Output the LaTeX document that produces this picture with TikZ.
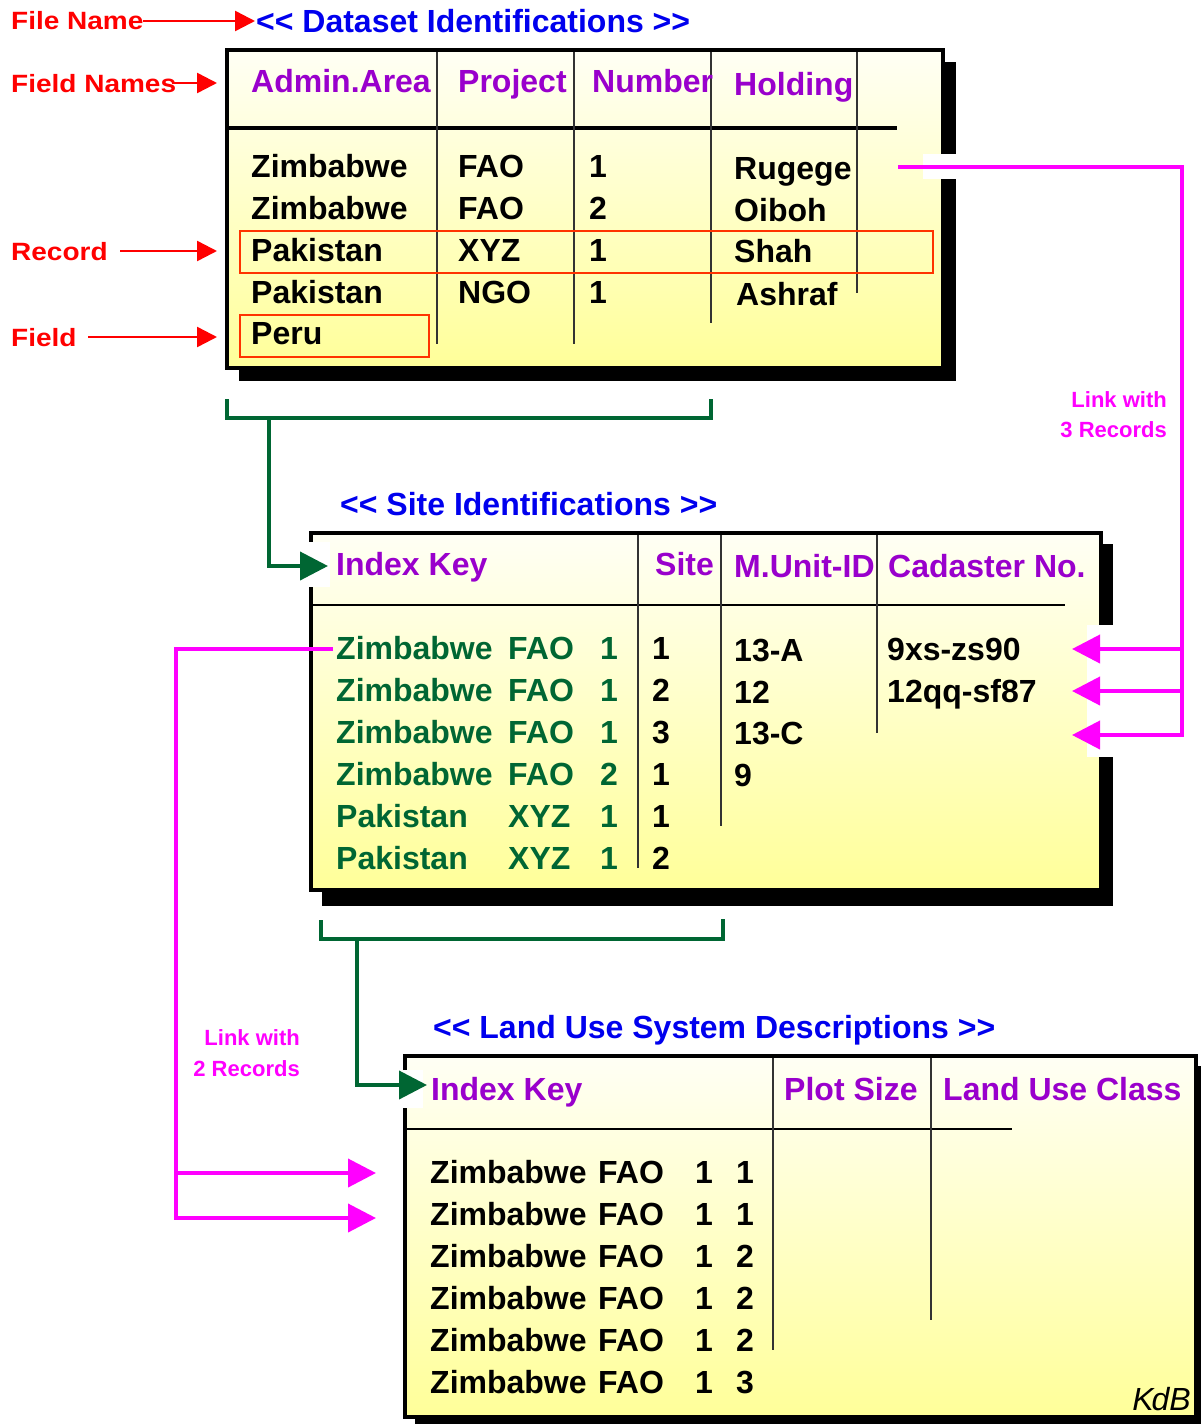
\documentclass[tikz,border=0pt]{standalone}
\usepackage{fontspec}
\setmainfont{Liberation Sans}
\newfontfamily\stretchfont[FakeStretch=1.12]{Liberation Sans}
\usetikzlibrary{arrows.meta}
\definecolor{ttlblue}{RGB}{0,0,238}
\definecolor{hdrpurple}{RGB}{153,0,204}
\definecolor{dkgreen}{RGB}{0,102,51}
\definecolor{lnkmag}{RGB}{255,0,255}
\definecolor{rbox}{RGB}{255,51,0}
\definecolor{lightcream}{RGB}{255,255,245}
\definecolor{paleyellow}{RGB}{255,255,153}
\newcommand{\ltlt}{<{}<}
\newcommand{\gtgt}{>{}>}
\tikzset{
  tablebox/.style={draw=black, line width=4pt, top color=lightcream, bottom color=paleyellow},
  shadowbox/.style={fill=black},
  bigfont/.style={font=\bfseries\fontsize{32}{36}\selectfont},
  hdr/.style={inner sep=0pt, anchor=base west, text=hdrpurple, bigfont},
  dat/.style={inner sep=0pt, anchor=base west, text=black, bigfont},
  keytxt/.style={dat, text=dkgreen},
  ttl/.style={inner sep=0pt, anchor=base west, text=ttlblue, bigfont},
  lbl/.style={inner sep=0pt, anchor=base west, text=red, font=\stretchfont\bfseries\fontsize{25}{30}\selectfont},
  lnklbl/.style={inner sep=0pt, align=right, anchor=north east, text=lnkmag, font=\bfseries\fontsize{22}{30}\selectfont},
  redarr/.style={draw=red, line width=2.5pt, -{Triangle[length=20pt,width=20pt]}},
  grnline/.style={draw=dkgreen, line width=4pt},
  grnarr/.style={grnline, -{Triangle[length=28pt,width=28pt]}},
  magline/.style={draw=lnkmag, line width=4pt},
  magarr/.style={magline, -{Triangle[length=28pt,width=28pt]}},
  colline/.style={draw=black!80, line width=1.3pt},
  sepline/.style={draw=black, line width=1.5pt},
  recbox/.style={draw=rbox, line width=1.2pt},
  whitepatch/.style={fill=white, draw=none}
}
\begin{document}
\begin{tikzpicture}[x=1pt,y=-1pt]
\useasboundingbox (0,0) rectangle (1201,1424);
\fill[white] (0,0) rectangle (1201,1424);

% ---------- Table 1 ----------
\fill[shadowbox] (239,62) rectangle (956,381);
\draw[tablebox] (227,50) rectangle (943,368);
\draw[draw=black, line width=3.5pt] (228,128) -- (897,128);
\draw[colline] (437,52) -- (437,344);
\draw[colline] (574,52) -- (574,344);
\draw[colline] (711,52) -- (711,323);
\draw[colline] (857,52) -- (857,293);
\fill[whitepatch] (923,154) rectangle (958,179);

% ---------- Table 2 ----------
\fill[shadowbox] (322,544) rectangle (1113,906);
\draw[tablebox] (311,533) rectangle (1101,890);
\draw[sepline] (313,605) -- (1065,605);
\draw[colline] (638,535) -- (638,868);
\draw[colline] (721,535) -- (721,826);
\draw[colline] (877,535) -- (877,733);
\fill[whitepatch] (308,542) rectangle (330,587);
\fill[whitepatch] (1087,625) rectangle (1115,757);

% ---------- Table 3 ----------
\fill[shadowbox] (415,1066) rectangle (1212,1432);
\draw[tablebox] (405,1056) rectangle (1196,1417);
\draw[sepline] (407,1129) -- (1012,1129);
\draw[colline] (773,1058) -- (773,1350);
\draw[colline] (931,1058) -- (931,1320);
\fill[whitepatch] (401,1070) rectangle (423,1108);

% ---------- Titles ----------
\node[ttl] (title1) at (256,32) {\ltlt\ Dataset Identifications \gtgt};
\node[ttl] (title2) at (340,515) {\ltlt\ Site Identifications \gtgt};
\node[ttl] (title3) at (433,1038) {\ltlt\ Land Use System Descriptions \gtgt};

% ---------- Red labels ----------
\node[lbl] (lfile) at (11,29) {File Name};
\node[lbl] (lfields) at (11,92) {Field Names};
\node[lbl] (lrecord) at (11,260) {Record};
\node[lbl] (lfield) at (11,346) {Field};
\coordinate (afile0) at (143,21);   \coordinate (afile1) at (255,21);
\coordinate (afields0) at (172,83); \coordinate (afields1) at (217,83);
\coordinate (arec0) at (120,251);   \coordinate (arec1) at (217,251);
\coordinate (afld0) at (88,337);    \coordinate (afld1) at (217,337);
\draw[redarr] (afile0) -- (afile1);
\draw[redarr] (afields0) -- (afields1);
\draw[redarr] (arec0) -- (arec1);
\draw[redarr] (afld0) -- (afld1);
\draw[recbox] (240,231) rectangle (933,273);
\draw[recbox] (240,315) rectangle (429,357);

% ---------- Table 1 text ----------
\node[hdr] (h1a) at (251,92) {Admin.Area};
\node[hdr] (h1b) at (458,92) {Project};
\node[hdr] (h1c) at (592,92) {Number};
\node[hdr] (h1d) at (734,95) {Holding};
\node[dat] (r1a) at (251,177) {Zimbabwe};
\node[dat] (r2a) at (251,219) {Zimbabwe};
\node[dat] (r3a) at (251,261) {Pakistan};
\node[dat] (r4a) at (251,303) {Pakistan};
\node[dat] (r5a) at (251,344) {Peru};
\node[dat] (r1b) at (458,177) {FAO};
\node[dat] (r2b) at (458,219) {FAO};
\node[dat] (r3b) at (458,261) {XYZ};
\node[dat] (r4b) at (458,303) {NGO};
\node[dat] (r1c) at (589,177) {1};
\node[dat] (r2c) at (589,219) {2};
\node[dat] (r3c) at (589,261) {1};
\node[dat] (r4c) at (589,303) {1};
\node[dat] (r1d) at (734,179) {Rugege};
\node[dat] (r2d) at (734,221) {Oiboh};
\node[dat] (r3d) at (734,262) {Shah};
\node[dat] (r4d) at (736,305) {Ashraf};

% ---------- Table 2 text ----------
\node[hdr] (h2a) at (336,575) {Index Key};
\node[hdr] (h2b) at (655,575) {Site};
\node[hdr] (h2c) at (734,577) {M.Unit-ID};
\node[hdr] (h2d) at (888,577) {Cadaster No.};
\foreach \i/\ka/\kb/\kc/\s/\y in {1/Zimbabwe/FAO/1/1/659, 2/Zimbabwe/FAO/1/2/701, 3/Zimbabwe/FAO/1/3/743, 4/Zimbabwe/FAO/2/1/785, 5/Pakistan/XYZ/1/1/827, 6/Pakistan/XYZ/1/2/869}{
  \node[keytxt] (s\i a) at (336,\y) {\ka};
  \node[keytxt] (s\i b) at (508,\y) {\kb};
  \node[keytxt] (s\i c) at (600,\y) {\kc};
  \node[dat] (s\i d) at (652,\y) {\s};
}
\node[dat] (s1e) at (734,661) {13-A};
\node[dat] (s2e) at (734,703) {12};
\node[dat] (s3e) at (734,744) {13-C};
\node[dat] (s4e) at (734,786) {9};
\node[dat] (s1f) at (887,660) {9xs-zs90};
\node[dat] (s2f) at (887,702) {12qq-sf87};

% ---------- Table 3 text ----------
\node[hdr] (h3a) at (431,1100) {Index Key};
\node[hdr] (h3b) at (784,1100) {Plot Size};
\node[hdr] (h3c) at (943,1100) {Land Use Class};
\foreach \i/\n/\y in {1/1/1183, 2/1/1225, 3/2/1267, 4/2/1309, 5/2/1351, 6/3/1393}{
  \node[dat] (u\i a) at (430,\y) {Zimbabwe};
  \node[dat] (u\i b) at (598,\y) {FAO};
  \node[dat] (u\i c) at (695,\y) {1};
  \node[dat] (u\i d) at (736,\y) {\n};
}
\node[inner sep=0pt, anchor=base east, font=\itshape\fontsize{32}{34}\selectfont] (kdb) at (1191,1410) {K\kern-2pt dB};

% ---------- Green brackets ----------
\coordinate (g1l) at (227,399); \coordinate (g1r) at (711,399);
\coordinate (g1s) at (269,418); \coordinate (g1t) at (328,566);
\draw[grnline] (g1l) -- (227,418) -- (711,418) -- (g1r);
\draw[grnarr] (g1s) |- (g1t);
\coordinate (g2l) at (321,920); \coordinate (g2r) at (723,919);
\coordinate (g2s) at (357,939); \coordinate (g2t) at (427,1085);
\draw[grnline] (g2l) -- (321,939) -- (723,939) -- (g2r);
\draw[grnarr] (g2s) |- (g2t);

% ---------- Magenta links ----------
\coordinate (m1s) at (898,167);
\coordinate (m1a) at (1072,649); \coordinate (m1b) at (1072,691); \coordinate (m1c) at (1072,735);
\draw[magarr] (m1s) -- (1182,167) -- (1182,735) -- (m1c);
\draw[magarr] (1182,649) -- (m1a);
\draw[magarr] (1182,691) -- (m1b);
\node[lnklbl] (lnk3) at (1167,391) {Link with\\3 Records};

\coordinate (m2s) at (333,649);
\coordinate (m2a) at (376,1173); \coordinate (m2b) at (376,1218);
\draw[magarr] (m2s) -- (176,649) -- (176,1218) -- (m2b);
\draw[magarr] (176,1173) -- (m2a);
\node[lnklbl, font=\bfseries\fontsize{22}{31}\selectfont] (lnk2) at (300,1029) {Link with\\2 Records};
\end{tikzpicture}
\end{document}
